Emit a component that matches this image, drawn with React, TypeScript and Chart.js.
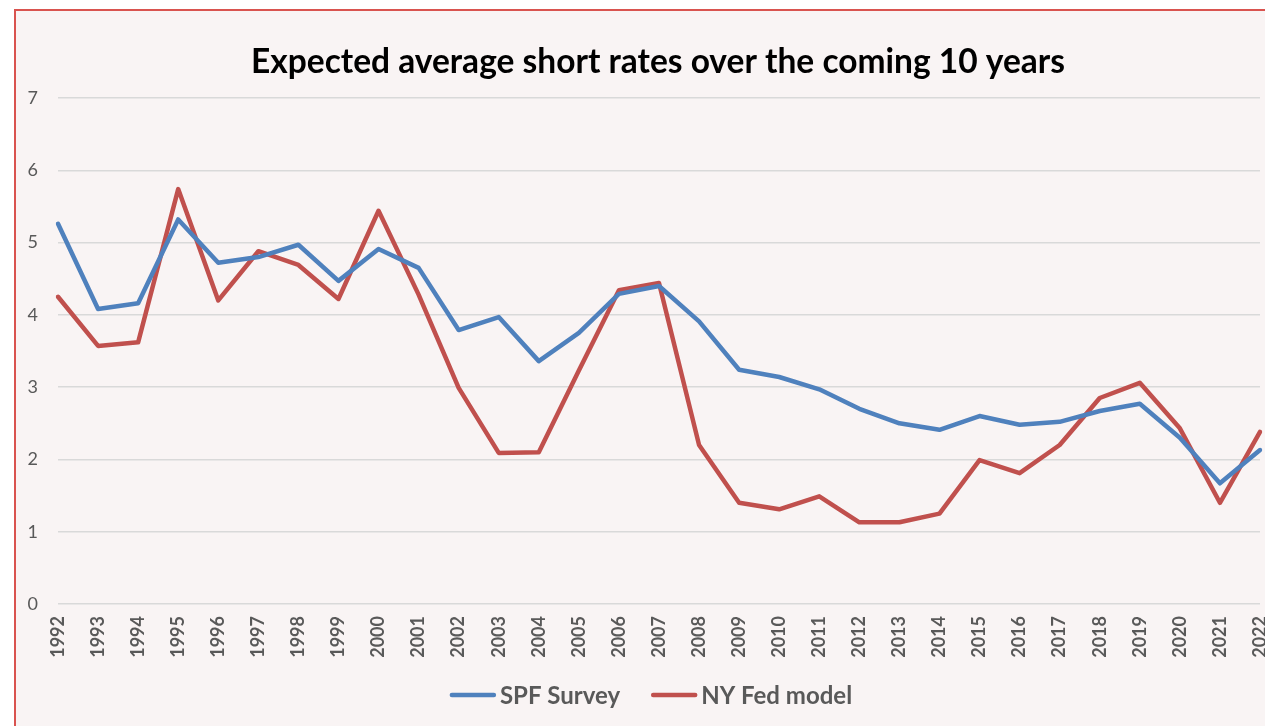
import React, { useEffect, useRef } from "react";
import { Chart, registerables } from "chart.js";

Chart.register(...registerables);

const years = [
  "1992", "1993", "1994", "1995", "1996", "1997", "1998", "1999", "2000", "2001",
  "2002", "2003", "2004", "2005", "2006", "2007", "2008", "2009", "2010", "2011",
  "2012", "2013", "2014", "2015", "2016", "2017", "2018", "2019", "2020", "2021", "2022",
];

const spfSurvey = [
  5.26, 4.08, 4.16, 5.32, 4.72, 4.8, 4.97, 4.47, 4.91, 4.65,
  3.79, 3.97, 3.36, 3.75, 4.29, 4.4, 3.91, 3.24, 3.14, 2.97,
  2.7, 2.5, 2.41, 2.6, 2.48, 2.52, 2.67, 2.77, 2.3, 1.67, 2.13,
];

const nyFedModel = [
  4.25, 3.57, 3.62, 5.74, 4.2, 4.88, 4.69, 4.22, 5.44, 4.28,
  2.99, 2.09, 2.1, 3.23, 4.34, 4.44, 2.2, 1.4, 1.31, 1.49,
  1.13, 1.13, 1.25, 1.99, 1.81, 2.2, 2.85, 3.06, 2.43, 1.4, 2.38,
];

const seriesNames = ["SPF Survey", "NY Fed model"];
const seriesColors = ["#4f81bd", "#c0504d"];
const titleText = "Expected average short rates over the coming 10 years";

const titleLegendPlugin = {
  id: "titleLegend",
  afterDraw(chart: any) {
    const ctx = chart.ctx as CanvasRenderingContext2D;
    ctx.save();
    // title
    ctx.fillStyle = "#000000";
    ctx.font = "bold 33.5px Lato";
    ctx.textAlign = "center";
    ctx.textBaseline = "middle";
    ctx.fillText(titleText, 642, 51);

    // legend
    ctx.font = "bold 24px Lato";
    ctx.textAlign = "left";
    const swatch = 46;
    const gapText = 4;
    const gapItem = 31;
    const datasets = chart.data.datasets;
    const widths = datasets.map((d: any) => ctx.measureText(d.label).width);
    let total = 0;
    widths.forEach((w: number, i: number) => {
      total += swatch + gapText + w + (i < widths.length - 1 ? gapItem : 0);
    });
    let x = 635 - total / 2;
    const y = 684;
    datasets.forEach((d: any, i: number) => {
      ctx.strokeStyle = d.borderColor;
      ctx.lineWidth = 4.5;
      ctx.lineCap = "round";
      ctx.beginPath();
      ctx.moveTo(x + 2, y);
      ctx.lineTo(x + swatch - 2, y);
      ctx.stroke();
      ctx.fillStyle = "#595959";
      ctx.fillText(d.label, x + swatch + gapText, y + 1);
      x += swatch + gapText + widths[i] + gapItem;
    });
    ctx.restore();
  },
};

export default function App() {
  const canvasRef = useRef<HTMLCanvasElement | null>(null);

  useEffect(() => {
    const canvas = canvasRef.current;
    if (!canvas) return;
    const chart = new Chart(canvas, {
      type: "line",
      data: {
        labels: years,
        datasets: [
          {
            label: seriesNames[0],
            data: spfSurvey,
            borderColor: seriesColors[0],
            backgroundColor: seriesColors[0],
            borderWidth: 4.5,
            pointRadius: 0,
            tension: 0,
            borderJoinStyle: "round",
            borderCapStyle: "round",
          },
          {
            label: seriesNames[1],
            data: nyFedModel,
            borderColor: seriesColors[1],
            backgroundColor: seriesColors[1],
            borderWidth: 4.5,
            pointRadius: 0,
            tension: 0,
            borderJoinStyle: "round",
            borderCapStyle: "round",
          },
        ],
      },
      options: {
        responsive: false,
        animation: false,
        maintainAspectRatio: false,
        layout: { padding: { left: 0, right: 6, top: 87, bottom: 62 } },
        plugins: {
          title: { display: false },
          legend: { display: false },
          tooltip: { enabled: false },
        },
        scales: {
          x: {
            offset: false,
            grid: { display: false, drawTicks: false },
            border: { display: false },
            ticks: {
              color: "#595959",
              font: { family: "Lato", size: 18, weight: "bold" },
              maxRotation: 90,
              minRotation: 90,
              autoSkip: false,
              padding: 12,
            },
            afterFit: (scale: any) => {
              scale.height = 60;
              scale.paddingLeft = 0;
              scale.paddingRight = 0;
            },
          },
          y: {
            min: 0,
            max: 7,
            grid: { color: "#d9d9d9", lineWidth: 1.5, drawTicks: false },
            border: { display: false },
            ticks: {
              stepSize: 1,
              color: "#595959",
              font: { family: "Lato", size: 18 },
              padding: 20,
            },
            afterFit: (scale: any) => {
              scale.width = 42;
            },
          },
        },
      },
      plugins: [titleLegendPlugin],
    });
    return () => chart.destroy();
  }, []);

  return (
    <div
      style={{
        position: "fixed",
        left: 0,
        top: 0,
        width: 1265,
        height: 726,
        overflow: "hidden",
        background: "#ffffff",
      }}
    >
      <div
        style={{
          position: "absolute",
          left: 14,
          top: 9,
          width: 1300,
          height: 760,
          borderLeft: "2px solid #d9534f",
          borderTop: "2px solid #d9534f",
          background: "#f9f4f4",
        }}
      >
        <canvas
          ref={canvasRef}
          width={1250}
          height={715}
          style={{ display: "block", width: 1250, height: 715 }}
        />
      </div>
    </div>
  );
}
